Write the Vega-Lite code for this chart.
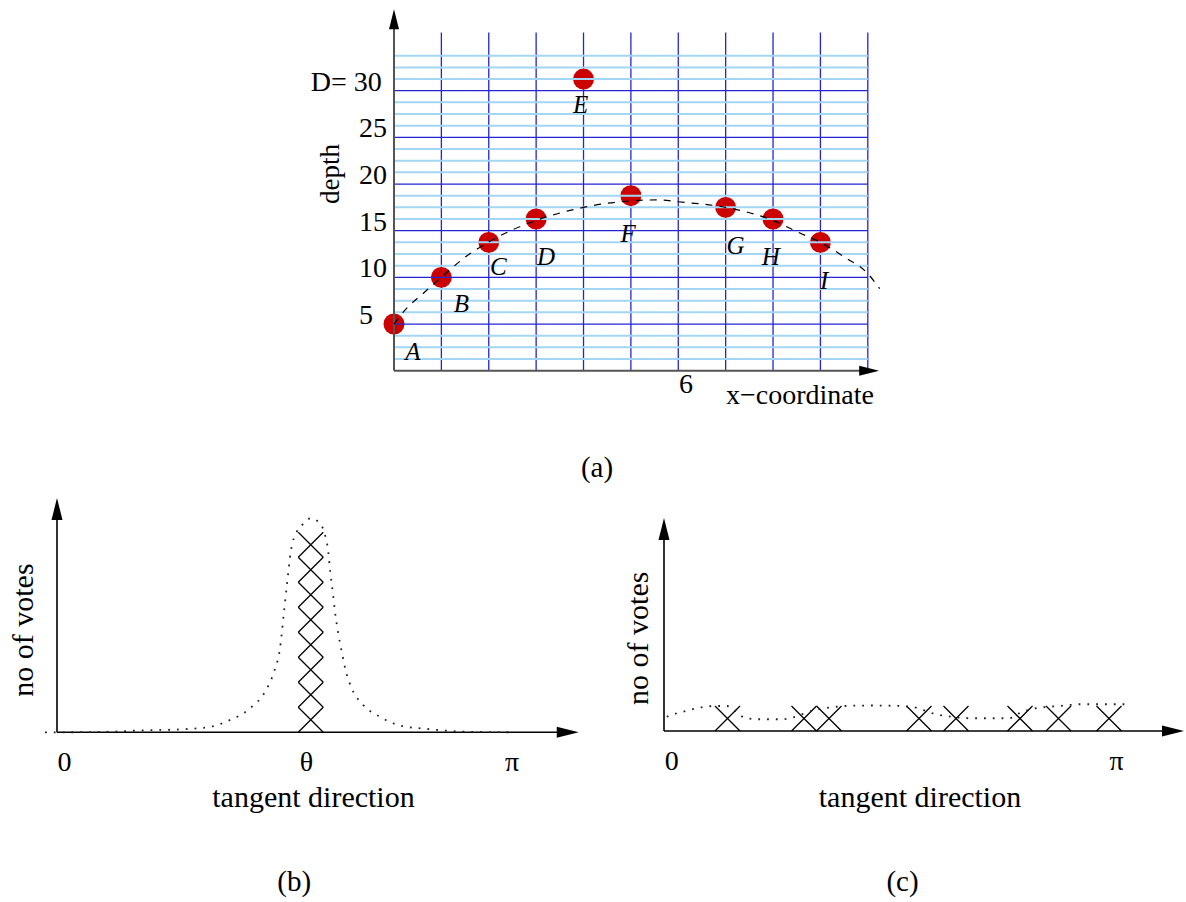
{
"$schema": "https://vega.github.io/schema/vega-lite/v6.json",
"width": 1186, "height": 902, "padding": 0, "autosize": {"type": "none"},
"background": "white",
"config": {"view": {"stroke": null}, "text": {"font": "Liberation Serif", "color": "black"}},
"datasets": {
"one": [{}],
"vlinesA": [{"x":1},{"x":2},{"x":3},{"x":4},{"x":5},{"x":6},{"x":7},{"x":8},{"x":9},{"x":10}],
"hdarkA": [{"y":5},{"y":10},{"y":15},{"y":20},{"y":25},{"y":30}],
"hlightA": [{"y":1.25},{"y":2.5},{"y":3.75},{"y":6.25},{"y":7.5},{"y":8.75},{"y":11.25},{"y":12.5},{"y":13.75},{"y":16.25},{"y":17.5},{"y":18.75},{"y":21.25},{"y":22.5},{"y":23.75},{"y":26.25},{"y":27.5},{"y":28.75},{"y":31.25},{"y":32.5},{"y":33.75}],
"pointsA": [{"name":"A","x":0,"depth":5},{"name":"B","x":1,"depth":10},{"name":"C","x":2,"depth":13.75},{"name":"D","x":3,"depth":16.25},{"name":"E","x":4,"depth":31.25},{"name":"F","x":5,"depth":18.75},{"name":"G","x":7,"depth":17.5},{"name":"H","x":8,"depth":16.25},{"name":"I","x":9,"depth":13.75}],
"labelsA": [{"t":"A","x":0.4,"y":1.97},{"t":"B","x":1.42,"y":7.16},{"t":"C","x":2.2,"y":11.09},{"t":"D","x":3.21,"y":12.16},{"t":"E","x":3.94,"y":28.43},{"t":"F","x":4.94,"y":14.66},{"t":"G","x":7.21,"y":13.41},{"t":"H","x":7.95,"y":12.16},{"t":"I","x":9.08,"y":9.65}],
"ticksA": [{"v":5,"t":"5"},{"v":10,"t":"10"},{"v":15,"t":"15"},{"v":20,"t":"20"},{"v":25,"t":"25"}],
"curveA": [{"x":0,"y":5},{"x":0.27,"y":6.7},{"x":0.62,"y":8.3},{"x":1,"y":10},{"x":1.46,"y":12.0},{"x":2,"y":13.8},{"x":3,"y":16.1},{"x":4,"y":17.5},{"x":5,"y":18.2},{"x":5.6,"y":18.3},{"x":6,"y":18.1},{"x":7,"y":17.5},{"x":8,"y":16.1},{"x":8.5,"y":14.9},{"x":9,"y":13.75},{"x":9.5,"y":12.2},{"x":10,"y":10.4},{"x":10.25,"y":8.8}],
"votesB": [{"dir":101.5,"n":0.5},{"dir":101.5,"n":1.5},{"dir":101.5,"n":2.5},{"dir":101.5,"n":3.5},{"dir":101.5,"n":4.5},{"dir":101.5,"n":5.5},{"dir":101.5,"n":6.5},{"dir":101.5,"n":7.5}],
"curveB": [{"d":-4.8,"v":0},{"d":0,"v":0},{"d":20,"v":0.02},{"d":35,"v":0.08},{"d":50,"v":0.12},{"d":61.2,"v":0.22},{"d":69.2,"v":0.49},{"d":77.2,"v":0.96},{"d":83.2,"v":1.62},{"d":86.8,"v":2.42},{"d":89.2,"v":3.36},{"d":90.8,"v":4.82},{"d":92.1,"v":6.02},{"d":93.5,"v":7.22},{"d":95.9,"v":8.02},{"d":98.4,"v":8.33},{"d":101.6,"v":8.56},{"d":104.5,"v":8.42},{"d":106.8,"v":8.02},{"d":108.5,"v":7.22},{"d":109.3,"v":6.42},{"d":110.3,"v":5.62},{"d":111.2,"v":4.82},{"d":112.4,"v":4.02},{"d":113.9,"v":3.22},{"d":115.6,"v":2.42},{"d":117.9,"v":1.76},{"d":122.5,"v":1.09},{"d":129.2,"v":0.62},{"d":136.5,"v":0.29},{"d":149.5,"v":0.12},{"d":161.6,"v":0.03},{"d":183,"v":0}],
"votesC": [{"dir":25.4,"n":0.5},{"dir":56,"n":0.5},{"dir":66,"n":0.5},{"dir":102,"n":0.5},{"dir":116.8,"n":0.5},{"dir":142.4,"n":0.5},{"dir":157.8,"n":0.5},{"dir":178,"n":0.5}],
"curveC": [{"d":1.1,"v":0.57},{"d":5.1,"v":0.71},{"d":9.1,"v":0.81},{"d":13.1,"v":0.91},{"d":16.4,"v":0.97},{"d":20.4,"v":1.0},{"d":25.1,"v":1.0},{"d":29.2,"v":0.76},{"d":32.4,"v":0.52},{"d":38.4,"v":0.47},{"d":46.4,"v":0.47},{"d":50.4,"v":0.51},{"d":54.4,"v":0.64},{"d":60.4,"v":0.84},{"d":66.4,"v":0.94},{"d":72.4,"v":1.0},{"d":82.4,"v":1.02},{"d":94.4,"v":1.0},{"d":99.6,"v":0.96},{"d":103.6,"v":0.84},{"d":108.4,"v":0.68},{"d":114.8,"v":0.57},{"d":122.4,"v":0.51},{"d":138,"v":0.51},{"d":142.1,"v":0.71},{"d":148.8,"v":0.91},{"d":154.1,"v":0.97},{"d":158.1,"v":1.0},{"d":162.1,"v":1.04},{"d":166.4,"v":1.07},{"d":186.4,"v":1.07}]
},
"layer": [
{
"layer": [
{"data": {"name": "vlinesA"}, "mark": {"type": "rule", "color": "#2424d4", "strokeWidth": 1.3},
 "encoding": {"x": {"field": "x", "type": "quantitative", "scale": {"domain": [-8.3157, 16.716], "nice": false, "zero": false}, "axis": null},
  "y": {"datum": 0, "type": "quantitative", "scale": {"domain": [-56.927, 39.719], "nice": false, "zero": false}, "axis": null}, "y2": {"datum": 36.25}}},
{"data": {"name": "pointsA"}, "mark": {"type": "point", "shape": "circle", "filled": true, "size": 440, "color": "#cc0000", "opacity": 1},
 "encoding": {"x": {"field": "x", "type": "quantitative", "axis": null}, "y": {"field": "depth", "type": "quantitative", "axis": null}}},
{"data": {"name": "hlightA"}, "mark": {"type": "rule", "color": "#a3d6f5", "strokeWidth": 2},
 "encoding": {"y": {"field": "y", "type": "quantitative", "axis": null}, "x": {"datum": 0, "type": "quantitative", "axis": null}, "x2": {"datum": 10}}},
{"data": {"name": "hdarkA"}, "mark": {"type": "rule", "color": "#2424d4", "strokeWidth": 1.3},
 "encoding": {"y": {"field": "y", "type": "quantitative", "axis": null}, "x": {"datum": 0, "type": "quantitative", "axis": null}, "x2": {"datum": 10}}},
{"data": {"name": "one"}, "mark": {"type": "rule", "color": "#555555", "strokeWidth": 2},
 "encoding": {"x": {"datum": 0, "type": "quantitative", "axis": null}, "y": {"datum": 0, "type": "quantitative", "axis": null}, "y2": {"datum": 37.5}}},
{"data": {"name": "one"}, "mark": {"type": "rule", "color": "#555555", "strokeWidth": 2},
 "encoding": {"y": {"datum": 0, "type": "quantitative", "axis": null}, "x": {"datum": 0, "type": "quantitative", "axis": null}, "x2": {"datum": 10.1}}},
{"data": {"name": "one"}, "mark": {"type": "point", "shape": "M0,0L-0.5,2L0.5,2Z", "size": 400, "filled": true, "color": "black", "opacity": 1},
 "encoding": {"x": {"datum": 0, "type": "quantitative", "axis": null}, "y": {"datum": 38.72, "type": "quantitative", "axis": null}}},
{"data": {"name": "one"}, "mark": {"type": "point", "shape": "M0,0L-2,-0.5L-2,0.5Z", "size": 400, "filled": true, "color": "black", "opacity": 1},
 "encoding": {"x": {"datum": 10.24, "type": "quantitative", "axis": null}, "y": {"datum": 0, "type": "quantitative", "axis": null}}},
{"data": {"name": "curveA"}, "mark": {"type": "line", "color": "black", "strokeWidth": 1.2, "strokeDash": [7, 7], "interpolate": "monotone"},
 "encoding": {"x": {"field": "x", "type": "quantitative", "axis": null}, "y": {"field": "y", "type": "quantitative", "axis": null}}},
{"data": {"name": "labelsA"}, "mark": {"type": "text", "fontSize": 25, "fontStyle": "italic", "align": "center", "baseline": "middle"},
 "encoding": {"x": {"field": "x", "type": "quantitative", "axis": null}, "y": {"field": "y", "type": "quantitative", "axis": null}, "text": {"field": "t"}}},
{"data": {"name": "ticksA"}, "mark": {"type": "text", "fontSize": 28, "align": "left", "baseline": "alphabetic"},
 "encoding": {"x": {"datum": -0.739, "type": "quantitative", "axis": null}, "y": {"field": "v", "type": "quantitative", "axis": null}, "text": {"field": "t"}}},
{"data": {"name": "one"}, "mark": {"type": "text", "text": "D= 30", "fontSize": 28, "align": "right", "baseline": "alphabetic"},
 "encoding": {"x": {"datum": -0.26, "type": "quantitative", "axis": null}, "y": {"datum": 30, "type": "quantitative", "axis": null}}},
{"data": {"name": "one"}, "mark": {"type": "text", "text": "6", "fontSize": 28, "align": "left", "baseline": "alphabetic"},
 "encoding": {"x": {"datum": 6.015, "type": "quantitative", "axis": null}, "y": {"datum": -2.42, "type": "quantitative", "axis": null}}},
{"data": {"name": "one"}, "mark": {"type": "text", "text": "x\u2212coordinate", "fontSize": 28, "align": "center", "baseline": "alphabetic"},
 "encoding": {"x": {"datum": 8.569, "type": "quantitative", "axis": null}, "y": {"datum": -3.57, "type": "quantitative", "axis": null}}},
{"data": {"name": "one"}, "mark": {"type": "text", "text": "depth", "fontSize": 27, "align": "center", "baseline": "alphabetic", "angle": 270},
 "encoding": {"x": {"datum": -1.161, "type": "quantitative", "axis": null}, "y": {"datum": 21.08, "type": "quantitative", "axis": null}}},
{"data": {"name": "one"}, "mark": {"type": "text", "text": "(a)", "fontSize": 29, "align": "center", "baseline": "alphabetic"},
 "encoding": {"x": {"datum": 4.284, "type": "quantitative", "axis": null}, "y": {"datum": -11.39, "type": "quantitative", "axis": null}}}
]
},
{
"layer": [
{"data": {"name": "one"}, "mark": {"type": "rule", "color": "black", "strokeWidth": 1.6},
 "encoding": {"x": {"datum": 0, "type": "quantitative", "scale": {"domain": [-22.8, 451.6], "nice": false, "zero": false}, "axis": null},
  "y": {"datum": 0, "type": "quantitative", "scale": {"domain": [-6.788, 29.292], "nice": false, "zero": false}, "axis": null}, "y2": {"datum": 8.6}}},
{"data": {"name": "one"}, "mark": {"type": "rule", "color": "black", "strokeWidth": 1.6},
 "encoding": {"y": {"datum": 0, "type": "quantitative", "axis": null}, "x": {"datum": 0, "type": "quantitative", "axis": null}, "x2": {"datum": 200.5}}},
{"data": {"name": "one"}, "mark": {"type": "point", "shape": "M0,0L-0.5,2L0.5,2Z", "size": 484, "filled": true, "color": "black", "opacity": 1},
 "encoding": {"x": {"datum": 0, "type": "quantitative", "axis": null}, "y": {"datum": 9.37, "type": "quantitative", "axis": null}}},
{"data": {"name": "one"}, "mark": {"type": "point", "shape": "M0,0L-2,-0.5L-2,0.5Z", "size": 484, "filled": true, "color": "black", "opacity": 1},
 "encoding": {"x": {"datum": 208.7, "type": "quantitative", "axis": null}, "y": {"datum": 0, "type": "quantitative", "axis": null}}},
{"data": {"name": "votesB"}, "mark": {"type": "point", "shape": "M-1,-1L1,1M-1,1L1,-1", "size": 625, "filled": false, "color": "black", "strokeWidth": 1.3, "opacity": 1},
 "encoding": {"x": {"field": "dir", "type": "quantitative", "axis": null}, "y": {"field": "n", "type": "quantitative", "axis": null}}},
{"data": {"name": "curveB"}, "mark": {"type": "line", "color": "#222222", "strokeWidth": 1.8, "strokeDash": [1.8, 7], "interpolate": "monotone"},
 "encoding": {"x": {"field": "d", "type": "quantitative", "axis": null}, "y": {"field": "v", "type": "quantitative", "axis": null}}},
{"data": {"name": "one"}, "mark": {"type": "text", "text": "0", "fontSize": 28, "align": "center", "baseline": "alphabetic"},
 "encoding": {"x": {"datum": 2.96, "type": "quantitative", "axis": null}, "y": {"datum": -1.53, "type": "quantitative", "axis": null}}},
{"data": {"name": "one"}, "mark": {"type": "text", "text": "\u03b8", "fontSize": 28, "align": "center", "baseline": "alphabetic"},
 "encoding": {"x": {"datum": 99.8, "type": "quantitative", "axis": null}, "y": {"datum": -1.53, "type": "quantitative", "axis": null}}},
{"data": {"name": "one"}, "mark": {"type": "text", "text": "\u03c0", "fontSize": 28, "align": "center", "baseline": "alphabetic"},
 "encoding": {"x": {"datum": 182, "type": "quantitative", "axis": null}, "y": {"datum": -1.53, "type": "quantitative", "axis": null}}},
{"data": {"name": "one"}, "mark": {"type": "text", "text": "tangent direction", "fontSize": 30, "align": "center", "baseline": "alphabetic"},
 "encoding": {"x": {"datum": 102.6, "type": "quantitative", "axis": null}, "y": {"datum": -2.99, "type": "quantitative", "axis": null}}},
{"data": {"name": "one"}, "mark": {"type": "text", "text": "(b)", "fontSize": 29, "align": "center", "baseline": "alphabetic"},
 "encoding": {"x": {"datum": 94.9, "type": "quantitative", "axis": null}, "y": {"datum": -6.35, "type": "quantitative", "axis": null}}},
{"data": {"name": "one"}, "mark": {"type": "text", "text": "no of votes", "fontSize": 30, "align": "center", "baseline": "alphabetic", "angle": 270},
 "encoding": {"x": {"datum": -9.5, "type": "quantitative", "axis": null}, "y": {"datum": 4.09, "type": "quantitative", "axis": null}}}
]
},
{
"layer": [
{"data": {"name": "one"}, "mark": {"type": "rule", "color": "black", "strokeWidth": 1.6},
 "encoding": {"x": {"datum": 0, "type": "quantitative", "scale": {"domain": [-265.6, 208.8], "nice": false, "zero": false}, "axis": null},
  "y": {"datum": 0, "type": "quantitative", "scale": {"domain": [-6.84, 29.24], "nice": false, "zero": false}, "axis": null}, "y2": {"datum": 7.7}}},
{"data": {"name": "one"}, "mark": {"type": "rule", "color": "black", "strokeWidth": 1.6},
 "encoding": {"y": {"datum": 0, "type": "quantitative", "axis": null}, "x": {"datum": 0, "type": "quantitative", "axis": null}, "x2": {"datum": 200}}},
{"data": {"name": "one"}, "mark": {"type": "point", "shape": "M0,0L-0.5,2L0.5,2Z", "size": 484, "filled": true, "color": "black", "opacity": 1},
 "encoding": {"x": {"datum": 0, "type": "quantitative", "axis": null}, "y": {"datum": 8.52, "type": "quantitative", "axis": null}}},
{"data": {"name": "one"}, "mark": {"type": "point", "shape": "M0,0L-2,-0.5L-2,0.5Z", "size": 484, "filled": true, "color": "black", "opacity": 1},
 "encoding": {"x": {"datum": 208, "type": "quantitative", "axis": null}, "y": {"datum": 0, "type": "quantitative", "axis": null}}},
{"data": {"name": "votesC"}, "mark": {"type": "point", "shape": "M-1,-1L1,1M-1,1L1,-1", "size": 625, "filled": false, "color": "black", "strokeWidth": 1.3, "opacity": 1},
 "encoding": {"x": {"field": "dir", "type": "quantitative", "axis": null}, "y": {"field": "n", "type": "quantitative", "axis": null}}},
{"data": {"name": "curveC"}, "mark": {"type": "line", "color": "#222222", "strokeWidth": 1.8, "strokeDash": [1.8, 7], "interpolate": "monotone"},
 "encoding": {"x": {"field": "d", "type": "quantitative", "axis": null}, "y": {"field": "v", "type": "quantitative", "axis": null}}},
{"data": {"name": "one"}, "mark": {"type": "text", "text": "0", "fontSize": 28, "align": "center", "baseline": "alphabetic"},
 "encoding": {"x": {"datum": 3.1, "type": "quantitative", "axis": null}, "y": {"datum": -1.54, "type": "quantitative", "axis": null}}},
{"data": {"name": "one"}, "mark": {"type": "text", "text": "\u03c0", "fontSize": 28, "align": "center", "baseline": "alphabetic"},
 "encoding": {"x": {"datum": 181, "type": "quantitative", "axis": null}, "y": {"datum": -1.54, "type": "quantitative", "axis": null}}},
{"data": {"name": "one"}, "mark": {"type": "text", "text": "tangent direction", "fontSize": 30, "align": "center", "baseline": "alphabetic"},
 "encoding": {"x": {"datum": 102.4, "type": "quantitative", "axis": null}, "y": {"datum": -3.04, "type": "quantitative", "axis": null}}},
{"data": {"name": "one"}, "mark": {"type": "text", "text": "(c)", "fontSize": 29, "align": "center", "baseline": "alphabetic"},
 "encoding": {"x": {"datum": 95.4, "type": "quantitative", "axis": null}, "y": {"datum": -6.4, "type": "quantitative", "axis": null}}},
{"data": {"name": "one"}, "mark": {"type": "text", "text": "no of votes", "fontSize": 30, "align": "center", "baseline": "alphabetic", "angle": 270},
 "encoding": {"x": {"datum": -6.4, "type": "quantitative", "axis": null}, "y": {"datum": 3.71, "type": "quantitative", "axis": null}}}
]
}
],
"resolve": {"scale": {"x": "independent", "y": "independent"}}
}
